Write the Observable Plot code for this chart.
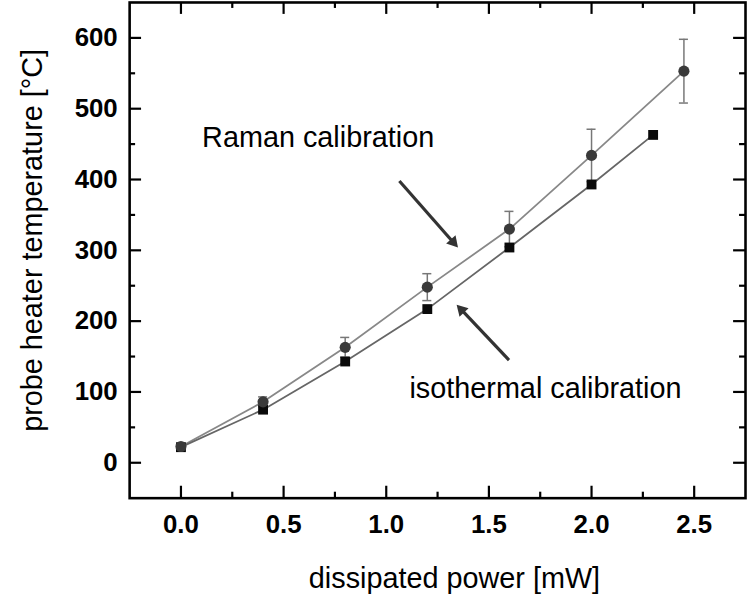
<!DOCTYPE html>
<html><head><meta charset="utf-8">
<script src="https://cdn.jsdelivr.net/npm/d3@7"></script>
<script src="https://cdn.jsdelivr.net/npm/@observablehq/plot@0.6"></script>
<style>html,body{margin:0;padding:0;overflow:hidden;background:#fff;}</style>
</head><body><div id="chart"></div>
<script>
// Raman calibration (circles with error bars)
const ramanPower = [0, 0.4, 0.8, 1.2, 1.6, 2.0, 2.45];
const ramanTemp  = [23, 86, 163, 248, 330, 434, 553];
const ramanErr   = [0, 7, 14, 19, 25, 37, 45];
// isothermal calibration (squares)
const isoPower = [0, 0.4, 0.8, 1.2, 1.6, 2.0, 2.3];
const isoTemp  = [22, 75, 143, 217, 304, 393, 463];
// ticks
const xMajor = [0, 0.5, 1.0, 1.5, 2.0, 2.5];
const xMinor = [0.25, 0.75, 1.25, 1.75, 2.25];
const yMajor = [0, 100, 200, 300, 400, 500, 600];
const yMinor = [50, 150, 250, 350, 450, 550];
// annotations (data coordinates)
const noteText = ["Raman calibration", "isothermal calibration"];
const noteX = [0.103, 1.113];
const noteY = [459, 105];
const arrowFrom = [[1.064, 398], [1.598, 145]];
const arrowTo   = [[1.355, 302], [1.337, 225]];

const xDomain = [-0.25, 2.75], yDomain = [-50, 650];
const W = 752, H = 606, mL = 130, mR = 2, mT = 2, mB = 105;
const plotW = W - mL - mR, plotH = H - mT - mB;
const kx = plotW / (xDomain[1] - xDomain[0]), ky = plotH / (yDomain[1] - yDomain[0]);

const raman = ramanPower.map((p, i) => ({p, t: ramanTemp[i], e: ramanErr[i]}));
const ramanE = raman.filter(d => d.e > 0);
const iso = isoPower.map((p, i) => ({p, t: isoTemp[i]}));
const notes = noteText.map((text, i) => ({text, x: noteX[i], y: noteY[i]}));
const headBack = 9;
const arrows = arrowFrom.map((f, i) => {
  const a = {x1: f[0], y1: f[1], x2: arrowTo[i][0], y2: arrowTo[i][1]};
  const px = (a.x2 - a.x1) * kx, py = -(a.y2 - a.y1) * ky;
  const L = Math.hypot(px, py), ux = px / L, uy = py / L;
  a.hx = a.x2 - ux * headBack / kx;
  a.hy = a.y2 + uy * headBack / ky;
  a.angle = Math.atan2(ux, -uy) * 180 / Math.PI;
  return a;
});
const capW = 0.022;

const chart = Plot.plot({
  width: W, height: H,
  marginLeft: mL, marginRight: mR, marginTop: mT, marginBottom: mB,
  style: {fontFamily: "'Liberation Sans', Arial, sans-serif", background: "#fff", color: "#000", overflow: "visible"},
  x: {domain: xDomain},
  y: {domain: yDomain},
  marks: [
    Plot.axisX(xMajor, {tickSize: 0, tickPadding: 17, tickFormat: d3.format(".1f"), fontSize: 26, fontWeight: "bold", label: null}),
    Plot.axisY(yMajor, {tickSize: 0, tickPadding: 12, fontSize: 26, fontWeight: "bold", label: null}),
    Plot.tickX(xMajor, {x: d => d, insetTop: plotH - 12, stroke: "#000", strokeWidth: 2.2}),
    Plot.tickX(xMinor, {x: d => d, insetTop: plotH - 6, stroke: "#000", strokeWidth: 2.2}),
    Plot.tickX(xMajor, {x: d => d, insetBottom: plotH - 12, stroke: "#000", strokeWidth: 2.2}),
    Plot.tickX(xMinor, {x: d => d, insetBottom: plotH - 6, stroke: "#000", strokeWidth: 2.2}),
    Plot.tickY(yMajor, {y: d => d, insetRight: plotW - 12, stroke: "#000", strokeWidth: 2.2}),
    Plot.tickY(yMinor, {y: d => d, insetRight: plotW - 6, stroke: "#000", strokeWidth: 2.2}),
    Plot.tickY(yMajor, {y: d => d, insetLeft: plotW - 12, stroke: "#000", strokeWidth: 2.2}),
    Plot.tickY(yMinor, {y: d => d, insetLeft: plotW - 6, stroke: "#000", strokeWidth: 2.2}),
    Plot.frame({stroke: "#000", strokeWidth: 2.6}),
    Plot.ruleX(ramanE, {x: "p", y1: d => d.t - d.e, y2: d => d.t + d.e, stroke: "#777", strokeWidth: 1.5}),
    Plot.ruleY(ramanE, {y: d => d.t + d.e, x1: d => d.p - capW, x2: d => d.p + capW, stroke: "#777", strokeWidth: 1.5}),
    Plot.ruleY(ramanE, {y: d => d.t - d.e, x1: d => d.p - capW, x2: d => d.p + capW, stroke: "#777", strokeWidth: 1.5}),
    Plot.line(raman, {x: "p", y: "t", stroke: "#888", strokeWidth: 1.8}),
    Plot.line(iso, {x: "p", y: "t", stroke: "#666", strokeWidth: 1.8}),
    Plot.dot(iso, {x: "p", y: "t", symbol: "square", r: 5.6, fill: "#0a0a0a", stroke: "none"}),
    Plot.dot(raman, {x: "p", y: "t", symbol: "circle", r: 5.6, fill: "#3a3a3a", stroke: "none"}),
    // arrows with filled heads
    Plot.link(arrows, {x1: "x1", y1: "y1", x2: "hx", y2: "hy", stroke: "#333", strokeWidth: 3.2}),
    Plot.dot(arrows, {x: "hx", y: "hy", symbol: "triangle2", r: 6, rotate: "angle", fill: "#333", stroke: "none"}),
    Plot.text(notes, {x: "x", y: "y", text: "text", textAnchor: "start", fontSize: 29, fill: "#000"}),
    Plot.text(["probe heater temperature [°C]"], {frameAnchor: "left", textAnchor: "middle", lineAnchor: "middle", rotate: -90, dx: -98, dy: -10, fontSize: 29, fill: "#000"}),
    Plot.text(["dissipated power [mW]"], {frameAnchor: "bottom", textAnchor: "middle", lineAnchor: "middle", dx: 17, dy: 81, fontSize: 29, fill: "#000"})
  ]
});
document.getElementById("chart").appendChild(chart);
</script>
</body></html>
